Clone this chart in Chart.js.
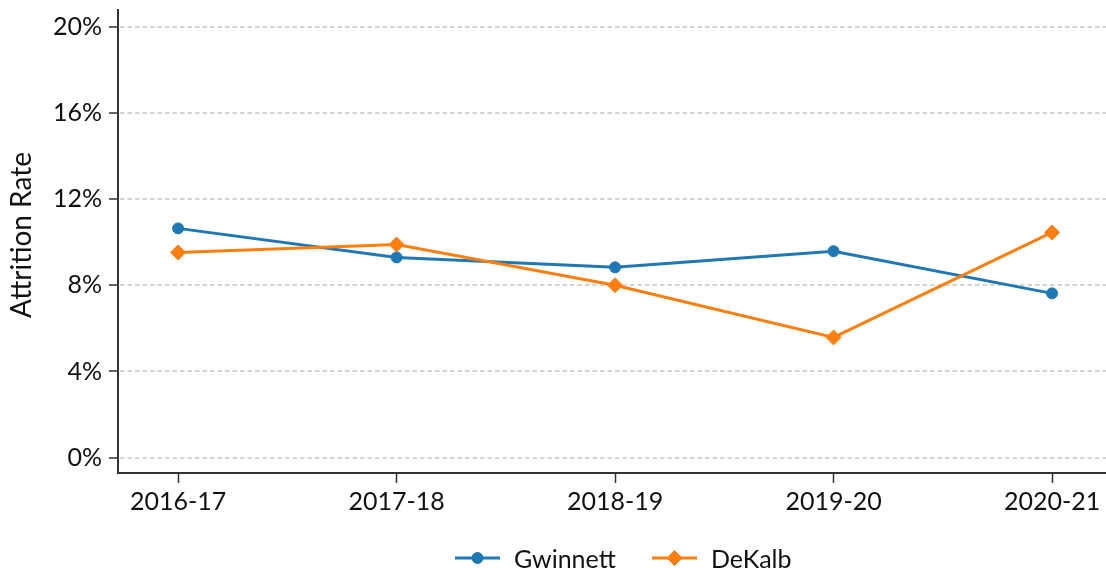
<!DOCTYPE html>
<html><head><meta charset="utf-8">
<style>html,body{margin:0;padding:0;background:#fff;overflow:hidden}#wrap{width:1106px;height:573px;position:relative}</style>
<script src="https://cdn.jsdelivr.net/npm/chart.js@4.4.0/dist/chart.umd.min.js"></script>
</head><body><div id="wrap"><canvas id="c" width="1106" height="573"></canvas></div>
<script>
const categories = ['2016-17', '2017-18', '2018-19', '2019-20', '2020-21'];
const gwinnett = [10.65, 9.30, 8.84, 9.59, 7.63];
const dekalb = [9.53, 9.90, 8.01, 5.58, 10.46];
const yTicks = [0, 4, 8, 12, 16, 20];
const seriesNames = ['Gwinnett', 'DeKalb'];
const yTitle = 'Attrition Rate';

const BLUE = '#1f77b4', ORANGE = '#ff7f0e', AXIS = '#333333', TEXT = '#111111';
const FONT = 'Lato';

const decorPlugin = {
  id: 'decor',
  afterDraw(chart) {
    const ctx = chart.ctx;
    ctx.save();
    // y-axis title
    ctx.font = '28px ' + FONT;
    ctx.fillStyle = TEXT;
    ctx.textAlign = 'center';
    ctx.textBaseline = 'middle';
    ctx.translate(22, 235);
    ctx.rotate(-Math.PI / 2);
    ctx.fillText(yTitle, 0, 0);
    ctx.restore();

    // legend: line + marker + label
    ctx.save();
    ctx.font = '25px ' + FONT;
    const y = 558;
    const starts = [455, 652];
    chart.data.datasets.slice().sort((a, b) => a.legendIndex - b.legendIndex).forEach((ds, k) => {
      const x = starts[k];
      ctx.strokeStyle = ds.borderColor;
      ctx.lineWidth = ds.borderWidth;
      ctx.beginPath(); ctx.moveTo(x, y); ctx.lineTo(x + 45, y); ctx.stroke();
      ctx.fillStyle = ds.pointBackgroundColor;
      ctx.strokeStyle = ds.pointBorderColor;
      ctx.lineWidth = ds.pointBorderWidth;
      Chart.helpers.drawPoint(ctx, {pointStyle: ds.pointStyle, radius: ds.pointRadius, rotation: 0, borderWidth: ds.pointBorderWidth}, x + 22.5, y);
      ctx.fillStyle = TEXT;
      ctx.textBaseline = 'alphabetic';
      ctx.textAlign = 'left';
      ctx.fillText(ds.label, x + 59, 568);
    });
    ctx.restore();
  }
};

function draw() {
  Chart.defaults.font.family = FONT;
  Chart.defaults.font.size = 25;
  Chart.defaults.color = TEXT;
  new Chart(document.getElementById('c'), {
    type: 'line',
    data: {
      datasets: [
        {
          label: seriesNames[0], legendIndex: 0, order: 2,
          data: gwinnett.map((v, i) => ({x: i, y: v})),
          borderColor: BLUE, backgroundColor: BLUE, borderWidth: 3,
          pointStyle: 'circle', pointRadius: 5.5, pointBorderWidth: 1,
          pointBackgroundColor: BLUE, pointBorderColor: BLUE, tension: 0
        },
        {
          label: seriesNames[1], legendIndex: 1, order: 1,
          data: dekalb.map((v, i) => ({x: i, y: v})),
          borderColor: ORANGE, backgroundColor: ORANGE, borderWidth: 3,
          pointStyle: 'rectRot', pointRadius: 7.5, pointBorderWidth: 1,
          pointBackgroundColor: ORANGE, pointBorderColor: ORANGE, tension: 0
        }
      ]
    },
    options: {
      responsive: false, animation: false, devicePixelRatio: 1,
      layout: {autoPadding: false, padding: {top: 10, left: 0, right: 0, bottom: 50}},
      plugins: {legend: {display: false}, tooltip: {enabled: false}},
      scales: {
        x: {
          type: 'linear', min: -0.275, max: 4.247,
          afterBuildTicks: s => { s.ticks = categories.map((c, i) => ({value: i})); },
          afterFit: s => { s.height = 50; s.paddingLeft = 0; s.paddingRight = 0; },
          ticks: {callback: v => categories[v], padding: 4, maxRotation: 0, autoSkip: false, color: TEXT},
          grid: {drawOnChartArea: false, drawTicks: true, tickLength: 10, tickColor: AXIS, tickWidth: 1.5},
          border: {display: true, color: AXIS, width: 2}
        },
        y: {
          min: -0.72, max: 20.8,
          afterBuildTicks: s => { s.ticks = yTicks.map(v => ({value: v})); },
          afterFit: s => { s.width = 118; s.paddingTop = 0; s.paddingBottom = 0; },
          ticks: {callback: v => v + '%', padding: 7, color: TEXT},
          grid: {color: '#d4d4d4', lineWidth: 2, drawTicks: true, tickLength: 9, tickColor: AXIS, tickWidth: 1.5},
          border: {display: true, color: AXIS, width: 2, dash: [4.5, 3], dashOffset: -1},
          title: {display: false}
        }
      }
    },
    plugins: [decorPlugin]
  });
}
if (document.fonts && document.fonts.load) {
  document.fonts.load('25px ' + FONT).then(draw, draw);
} else { draw(); }
</script></body></html>
